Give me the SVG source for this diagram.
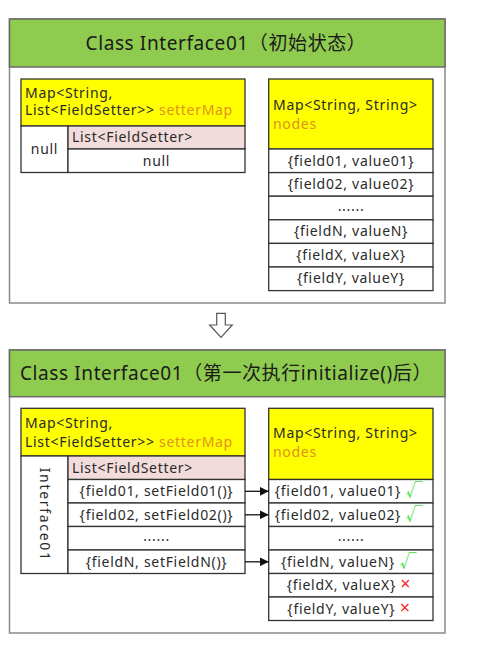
<svg xmlns="http://www.w3.org/2000/svg" width="480" height="657" viewBox="0 0 480 657">
<style>
text{font-family:"Noto Sans","Noto Sans CJK SC",sans-serif;fill:#2a2a2a}
.panel{fill:#fff;stroke:#8a8a8a;stroke-width:1.5}
.head{fill:#8fcb4f;stroke:#6a6a6a;stroke-width:1.5}
.title{font-size:19px;letter-spacing:0.6px;text-anchor:middle;fill:#1a1a1a}
.cell{fill:#fff;stroke:#333;stroke-width:1.3}
.yel{fill:#ffff00;stroke:#333;stroke-width:1.3}
.pink{fill:#f2dcdb;stroke:#333;stroke-width:1.3}
.t{font-size:14px;letter-spacing:0.7px}
.c{font-size:14px;letter-spacing:0.7px;text-anchor:middle}
.hl{fill:#e0911e}
.ok{fill:#3fe03f;font-size:17px}
.no{fill:#ff1a1a;font-size:18px}
.conn{stroke:#111;stroke-width:1.3;fill:none}
</style>
<defs>
<marker id="ah" viewBox="0 0 10 10" refX="10" refY="5" markerWidth="9" markerHeight="9" markerUnits="userSpaceOnUse" orient="auto">
<path d="M0,0 L10,5 L0,10 z" fill="#111"/>
</marker>
</defs>

<g id="panel-initial">
<rect class="panel" x="9.5" y="19" width="435.5" height="284"/>
<rect class="head" x="9.5" y="19" width="435.5" height="48"/>
<text class="title" x="226" y="50">Class Interface01（初始状态）</text>
</g>

<g id="setterMap-initial">
<rect class="yel" x="21" y="79" width="224" height="47"/>
<text class="t" x="25" y="97.5">Map&lt;String,</text>
<text class="t" x="25" y="115">List&lt;FieldSetter&gt;&gt; <tspan class="hl">setterMap</tspan></text>
<rect class="cell" x="21" y="126" width="47" height="46.5"/>
<text class="c" x="44.5" y="154">null</text>
<rect class="pink" x="68" y="126" width="177" height="23"/>
<text class="t" x="72" y="142">List&lt;FieldSetter&gt;</text>
<rect class="cell" x="68" y="149" width="177" height="23.5"/>
<text class="c" x="156.5" y="165.5">null</text>
</g>

<g id="nodes-initial">
<rect class="yel" x="268.7" y="79" width="164.3" height="70"/>
<text class="t" x="273" y="109.5">Map&lt;String, String&gt;</text>
<text class="t hl" x="273" y="128.5">nodes</text>
<rect class="cell" x="268.7" y="149" width="164.3" height="23.6"/>
<rect class="cell" x="268.7" y="172.6" width="164.3" height="23.6"/>
<rect class="cell" x="268.7" y="196.2" width="164.3" height="23.6"/>
<rect class="cell" x="268.7" y="219.8" width="164.3" height="23.6"/>
<rect class="cell" x="268.7" y="243.4" width="164.3" height="23.6"/>
<rect class="cell" x="268.7" y="267" width="164.3" height="23.6"/>
<text class="c" x="351" y="165.5">{field01, value01}</text>
<text class="c" x="351" y="189">{field02, value02}</text>
<text class="c" x="351" y="211">......</text>
<text class="c" x="351" y="236.2">{fieldN, valueN}</text>
<text class="c" x="351" y="259.8">{fieldX, valueX}</text>
<text class="c" x="351" y="283.4">{fieldY, valueY}</text>
</g>

<g id="transition-arrow">
<path d="M216.7,313.3 H225.3 V325 H232.3 L221,337.3 L209.7,325 H216.7 Z" fill="#fff" stroke="#555" stroke-width="1.2"/>
</g>

<g id="panel-after">
<rect class="panel" x="9.5" y="350" width="435.5" height="283"/>
<rect class="head" x="9.5" y="350" width="435.5" height="46.7"/>
<text class="title" x="226" y="380">Class Interface01（第一次执行initialize()后）</text>
</g>

<g id="setterMap-after">
<rect class="yel" x="21" y="408.3" width="224" height="47.7"/>
<text class="t" x="25" y="427.5">Map&lt;String,</text>
<text class="t" x="25" y="446.5">List&lt;FieldSetter&gt;&gt; <tspan class="hl">setterMap</tspan></text>
<rect class="cell" x="21" y="456" width="47" height="117.5"/>
<text class="c" style="letter-spacing:1.7px" transform="translate(40,514.7) rotate(90)">Interface01</text>
<rect class="pink" x="68" y="456" width="177" height="23.5"/>
<text class="t" x="72" y="472.5">List&lt;FieldSetter&gt;</text>
<rect class="cell" x="68" y="479.5" width="177" height="23.5"/>
<rect class="cell" x="68" y="503" width="177" height="23.5"/>
<rect class="cell" x="68" y="526.5" width="177" height="23.5"/>
<rect class="cell" x="68" y="550" width="177" height="23.5"/>
<text class="c" x="156.5" y="496">{field01, setField01()}</text>
<text class="c" x="156.5" y="519.5">{field02, setField02()}</text>
<text class="c" x="156.5" y="541">......</text>
<text class="c" x="156.5" y="566.5">{fieldN, setFieldN()}</text>
</g>

<g id="nodes-after">
<rect class="yel" x="268.7" y="408.3" width="164.3" height="71.2"/>
<text class="t" x="273" y="437.5">Map&lt;String, String&gt;</text>
<text class="t hl" x="273" y="457">nodes</text>
<rect class="cell" x="268.7" y="479.5" width="164.3" height="23.5"/>
<rect class="cell" x="268.7" y="503" width="164.3" height="23.5"/>
<rect class="cell" x="268.7" y="526.5" width="164.3" height="23.5"/>
<rect class="cell" x="268.7" y="550" width="164.3" height="23.5"/>
<rect class="cell" x="268.7" y="573.5" width="164.3" height="23.5"/>
<rect class="cell" x="268.7" y="597" width="164.3" height="23.5"/>
<text class="c" x="349" y="496">{field01, value01} <tspan class="ok">√</tspan></text>
<text class="c" x="349" y="519.5">{field02, value02} <tspan class="ok">√</tspan></text>
<text class="c" x="351" y="541">......</text>
<text class="c" x="349" y="566.5">{fieldN, valueN} <tspan class="ok">√</tspan></text>
<text class="c" x="349" y="590">{fieldX, valueX} <tspan class="no">×</tspan></text>
<text class="c" x="349" y="613.5">{fieldY, valueY} <tspan class="no">×</tspan></text>
</g>

<g id="connectors">
<line class="conn" x1="245" y1="491.3" x2="268.7" y2="491.3" marker-end="url(#ah)"/>
<line class="conn" x1="245" y1="514.8" x2="268.7" y2="514.8" marker-end="url(#ah)"/>
<line class="conn" x1="245" y1="561.8" x2="268.7" y2="561.8" marker-end="url(#ah)"/>
</g>
</svg>
